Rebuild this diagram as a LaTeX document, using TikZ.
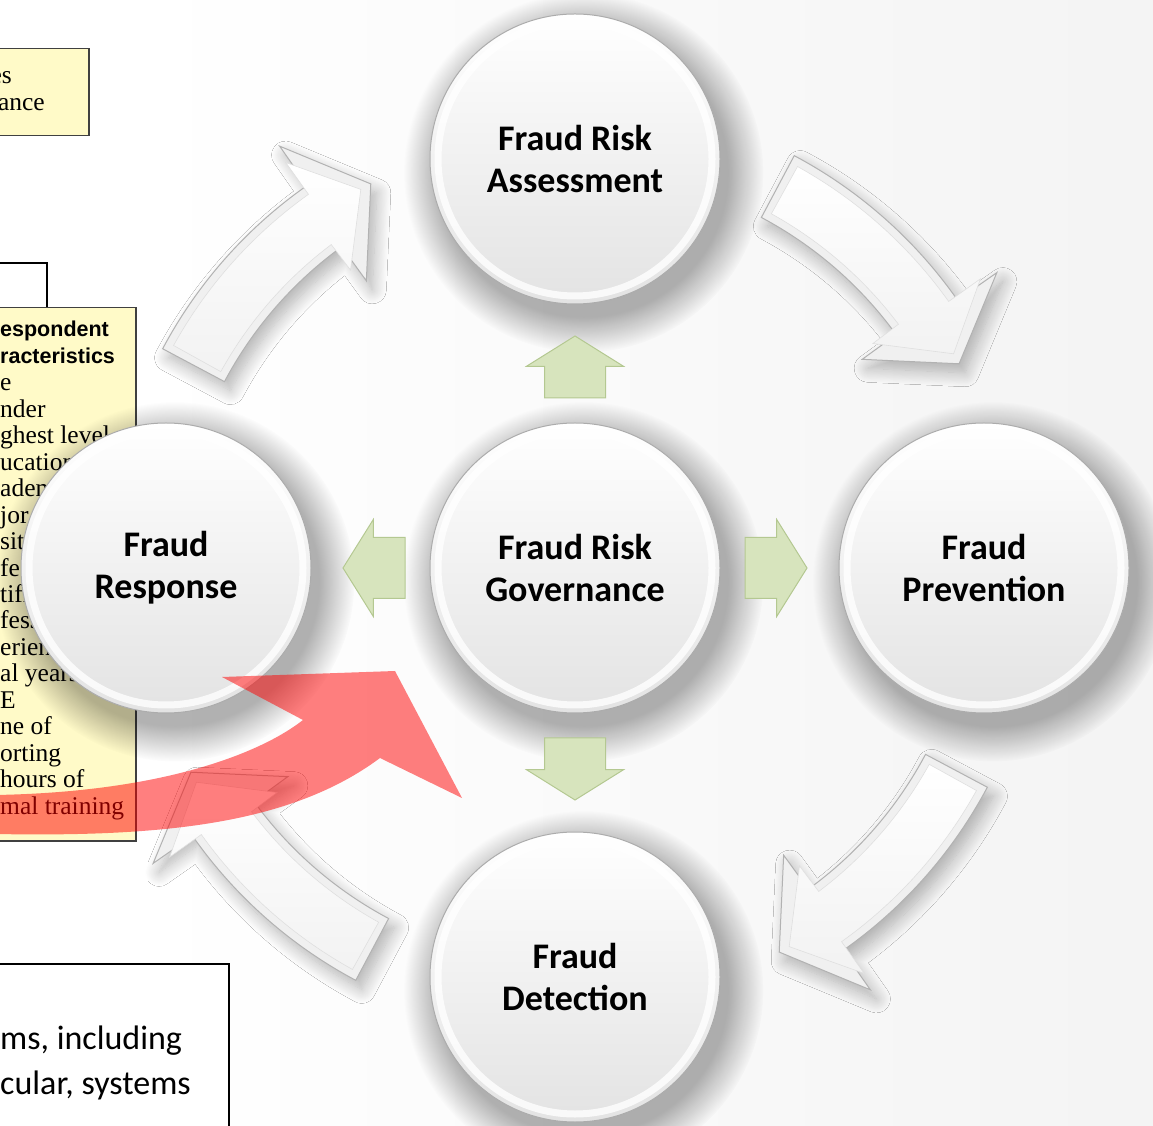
\documentclass[tikz,border=0pt]{standalone}
\usepackage{fontspec}
\newfontfamily\slidefont{Carlito}
\newfontfamily\docserif{Liberation Serif}
\newfontfamily\docsans{Liberation Sans}
\usepackage{tikz}
\usetikzlibrary{shapes.geometric, shapes.arrows}
\usetikzlibrary{shadows, shadows.blur, fadings}
\usetikzlibrary{positioning}
\definecolor{docyellow}{RGB}{255,250,200}
\definecolor{leafgreen}{RGB}{215,228,189}
\definecolor{leafedge}{RGB}{180,200,145}
\tikzstyle{disc} = [circle, minimum size=290pt, draw=gray!65, line width=1pt, top color=white, bottom color=gray!22, circular drop shadow={shadow scale=1.24, shadow xshift=7pt, shadow yshift=-11pt, fill=black, opacity=0.3, path fading=circle with fuzzy edge 20 percent}, align=center, font=\slidefont\bfseries\fontsize{36}{42}\selectfont]
\tikzstyle{rim} = [draw=white, line width=7pt, opacity=0.8]
\tikzstyle{greenarrow} = [single arrow, fill=leafgreen, draw=leafedge, line width=1pt, inner xsep=0pt, inner ysep=30pt, minimum height=62pt, minimum width=1pt, single arrow head extend=18pt, single arrow tip angle=116, outer sep=0pt, node distance=170pt]
\tikzstyle{greenarrowv} = [greenarrow, inner xsep=30pt, inner ysep=0pt]
\tikzstyle{bevel} = [fill=gray!12, draw=gray!60, line width=1pt, blur shadow={shadow xshift=6pt, shadow yshift=-9pt, shadow blur radius=14pt, shadow blur steps=16, shadow opacity=30}]
\tikzstyle{face} = [top color=white, bottom color=gray!10, draw=gray!25, line width=0.6pt]
\tikzstyle{docbox} = [rectangle, fill=docyellow, draw=black!75, line width=1.5pt, inner sep=0pt]
\tikzstyle{plainbox} = [rectangle, fill=white, draw=black, line width=1.5pt, inner sep=0pt]
\tikzstyle{docline} = [draw=black, line width=2pt]
\tikzstyle{redarrow} = [fill=red, fill opacity=0.5]

\begin{document}
\begin{tikzpicture}[x=1pt, y=1pt, node distance=409pt]
    \useasboundingbox (0,0) rectangle (1153,1125);
    \shade [left color=white, right color=gray!9] (148,0) rectangle (1153,1125);

    % document behind the slide
    \node (perfBox) [docbox, minimum width=90pt, minimum height=87pt, anchor=north west] at (-2,1077) {};
    \node (perfTop) [anchor=base east, inner sep=0pt, font=\docserif\fontsize{25.5}{27}\selectfont] at (12,1041) {es};
    \node (perfBottom) [anchor=base east, inner sep=0pt, font=\docserif\fontsize{25.5}{27}\selectfont] at (45,1014) {ance};

    \node (chars) [docbox, minimum width=137pt, minimum height=533pt, anchor=north west] at (-2,818) {};
    \coordinate (charsLink) at (-2,862);
    \draw [docline] (charsLink) -| ([xshift=49pt]chars.north west);
    \node (charsHead) [anchor=base west, align=left, inner sep=0pt, font=\docsans\bfseries\fontsize{21.5}{27}\selectfont] at (0,761) {espondent\\racteristics};
    \node (charsBody) [anchor=base west, align=left, inner sep=0pt, font=\docserif\fontsize{25.5}{26.44}\selectfont] at (0,311)
        {e\\nder\\ghest level\\ucation\\ademic\\jor\\sition\\fessional\\tification\\fessional\\erience\\al years\\E\\ne of\\orting\\hours of\\mal training};

    \node (systems) [plainbox, minimum width=230pt, minimum height=170pt, anchor=north west] at (-2,162) {};
    \node (systemsText) [anchor=base west, align=left, inner sep=0pt, font=\slidefont\fontsize{34}{45}\selectfont] at (0,31) {ms, including\\cular, systems};

    % the five circles
    \node (gov) [disc] at (575,557) {Fraud Risk\\Governance};
    \node (assess) [disc, above of=gov] {Fraud Risk\\Assessment};
    \node (prevent) [disc, right of=gov] {Fraud\\Prevention};
    \node (detect) [disc, below of=gov] {Fraud\\Detection};
    \node (respond) [disc, left of=gov] {Fraud\\Response};
    \foreach \n in {gov,assess,prevent,detect,respond}
        \draw [rim] (\n) circle (137pt);

    % green arrows out of the centre
    \node (upArr) [greenarrowv, above of=gov, anchor=tail, shape border rotate=90] {};
    \node (rightArr) [greenarrow, right of=gov, anchor=tail, shape border rotate=0] {};
    \node (downArr) [greenarrowv, below of=gov, anchor=tail, shape border rotate=270] {};
    \node (leftArr) [greenarrow, left of=gov, anchor=tail, shape border rotate=180] {};

    % white cycle arrows
    \foreach \turn in {0,-90,-180,-270} {
        \begin{scope}[shift={(gov.center)}, rotate=\turn]
        \path [bevel] (152:467pt) -- (152:397pt) arc[start angle=152, end angle=126, radius=397pt]
            -- (126:355pt) -- (118:435pt) -- (125:515pt) -- (125:467pt)
            arc[start angle=125, end angle=152, radius=467pt] -- cycle;
        \path [face] (151:459pt) -- (151:405pt) arc[start angle=151, end angle=127, radius=405pt]
            -- (127:373pt) -- (119.5:435pt) -- (125.5:498pt) -- (125.5:459pt)
            arc[start angle=125.5, end angle=151, radius=459pt] -- cycle;
        \end{scope}
    }

    % red overlay arrow
    \fill [redarrow] (-5,330) .. controls (170,333) and (265,375) .. (303,405) -- (222,448) -- (395,454)
        -- (462,327) -- (380,367) .. controls (290,300) and (160,288) .. (-5,291) -- cycle;
\end{tikzpicture}
\end{document}
